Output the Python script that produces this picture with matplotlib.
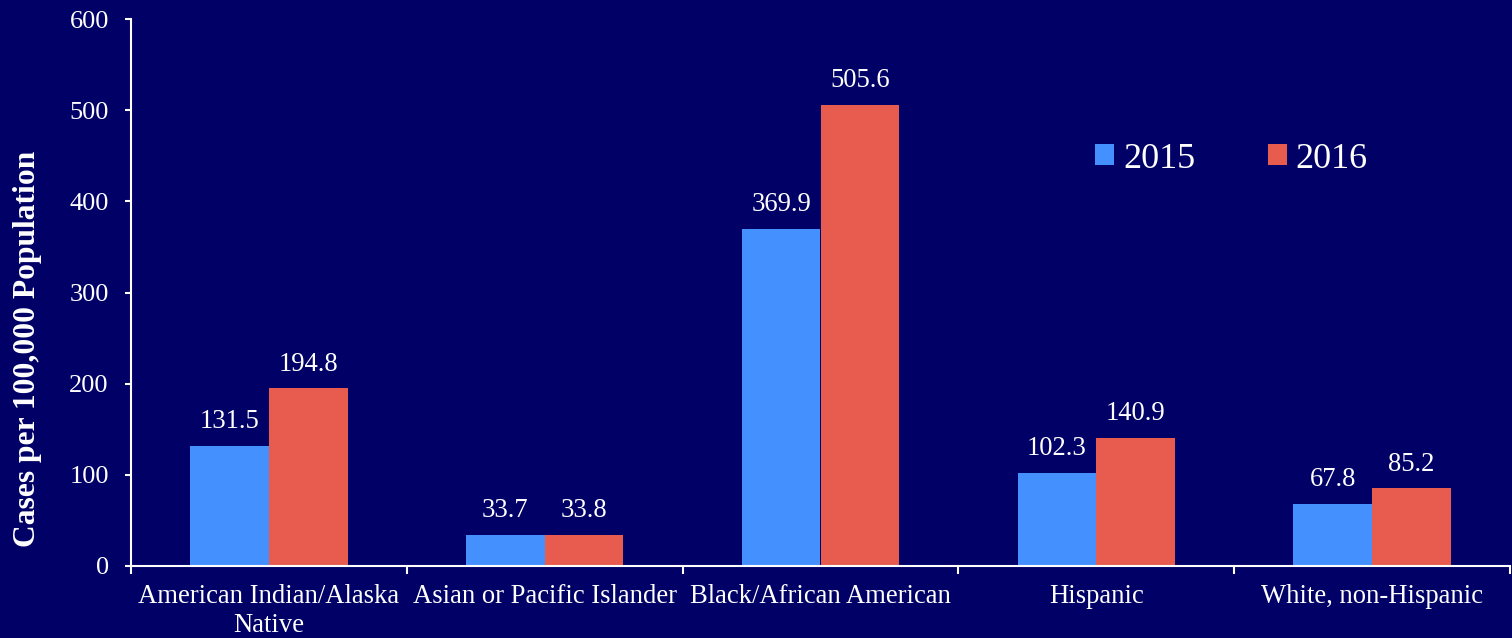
import matplotlib.pyplot as plt
import numpy as np

categories = ['American Indian/Alaska\nNative', 'Asian or Pacific Islander',
              'Black/African American', 'Hispanic', 'White, non-Hispanic']
years = ['2015', '2016']
rates_2015 = [131.5, 33.7, 369.9, 102.3, 67.8]
rates_2016 = [194.8, 33.8, 505.6, 140.9, 85.2]
y_ticks = [0, 100, 200, 300, 400, 500, 600]

bg = '#000066'
blue = '#4590FF'
red = '#E85C50'

plt.rcParams['font.family'] = ['Liberation Serif', 'DejaVu Serif']

fig = plt.figure(figsize=(15.12, 6.38), dpi=100, facecolor=bg)
ax = fig.add_axes([131 / 1512, 1 - 566 / 638, (1510 - 131) / 1512, (566 - 19) / 638])
ax.set_facecolor(bg)

x = np.arange(len(categories))
w = 0.285
b1 = ax.bar(x - w / 2, rates_2015, w, color=blue, label=years[0])
b2 = ax.bar(x + w / 2, rates_2016, w, color=red, label=years[1])

# value labels above each bar
for bars, vals in [(b1, rates_2015), (b2, rates_2016)]:
    for rect, v in zip(bars, vals):
        ax.annotate('{:.1f}'.format(v), (rect.get_x() + rect.get_width() / 2, v),
                    xytext=(0, 17.5), textcoords='offset points',
                    ha='center', va='center', color='white', fontsize=19.2)

ax.set_xlim(-0.5, len(categories) - 0.5)
ax.set_ylim(0, 600)
ax.set_yticks(y_ticks)
ax.set_xticks(x)
ax.set_xticklabels(categories)
ax.set_xticks(np.arange(len(categories) + 1) - 0.5, minor=True)

for s in ['top', 'right']:
    ax.spines[s].set_visible(False)
for s in ['left', 'bottom']:
    ax.spines[s].set_color('white')
    ax.spines[s].set_linewidth(1.5)

ax.tick_params(axis='y', colors='white', labelsize=19, length=4, width=1.5, pad=12)
ax.tick_params(axis='x', which='major', colors='white', labelsize=19.2, length=0, pad=13)
ax.tick_params(axis='x', which='minor', colors='white', length=6, width=1.5)

ax.set_ylabel('Cases per 100,000 Population', color='white', fontsize=22.7,
              fontweight='bold')
ax.yaxis.set_label_coords(-0.0644, 0.397)

ax.legend(loc='center left', bbox_to_anchor=(1095 / 1512, 1 - 159 / 638),
          bbox_transform=fig.transFigure, frameon=False, ncol=2, fontsize=26,
          labelcolor='white', handlelength=0.53, handleheight=0.53,
          handletextpad=0.25, columnspacing=2.0, borderpad=0, borderaxespad=0)

fig.savefig('out.png', dpi=100, facecolor=bg)
